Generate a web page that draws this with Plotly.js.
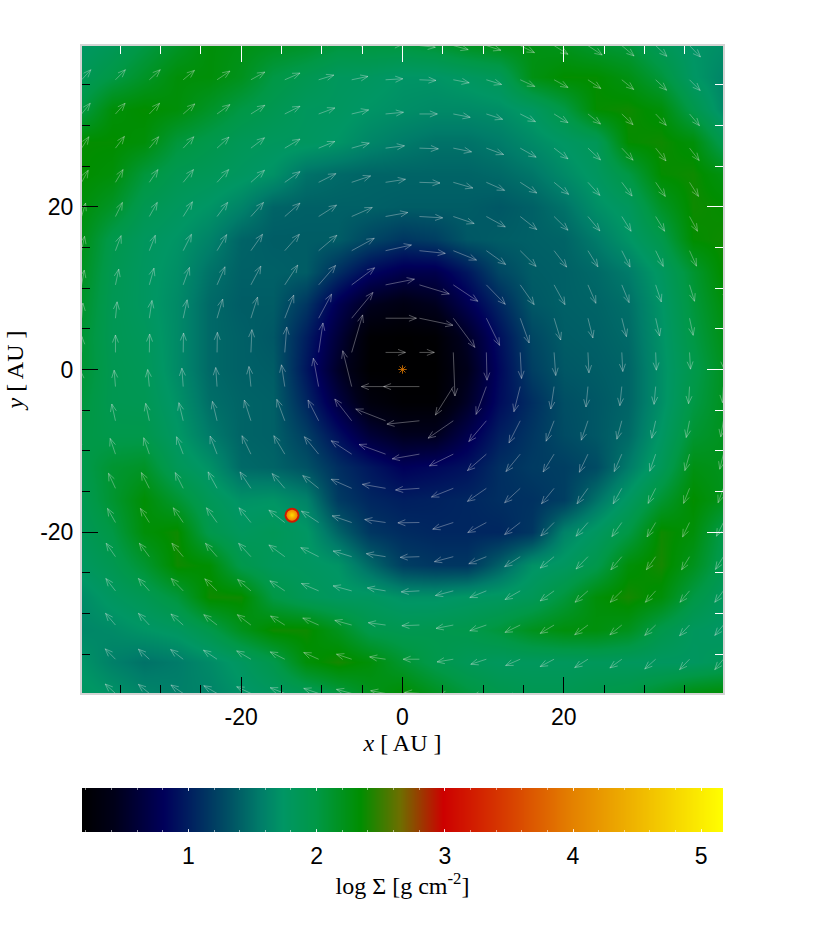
<!DOCTYPE html>
<html><head><meta charset="utf-8">
<script src="https://cdn.plot.ly/plotly-3.0.1.min.js"></script>
<style>html,body{margin:0;padding:0;background:#fff}#c{width:822px;height:926px}</style>
</head><body><div id="c"></div>
<script>
// surface density map: log Sigma sampled every 4 AU, rows from y=+40 down to y=-40
const mapX = [-40,-36,-32,-28,-24,-20,-16,-12,-8,-4,0,4,8,12,16,20,24,28,32,36,40];
const mapY = [40,36,32,28,24,20,16,12,8,4,0,-4,-8,-12,-16,-20,-24,-28,-32,-36,-40];
const logSigma = [
[1.75,1.85,2.0,2.15,2.3,2.25,2.2,2.15,2.05,2.05,2.05,2.1,2.2,2.25,2.25,2.2,2.1,2.05,1.85,1.72,1.68],
[1.85,2.0,2.15,2.3,2.3,2.2,2.0,1.9,1.8,1.78,1.72,1.72,1.78,1.85,2.25,2.35,2.35,2.25,2.05,1.75,1.6],
[2.0,2.3,2.35,2.3,2.15,2.0,1.9,1.8,1.78,1.72,1.68,1.65,1.65,1.68,1.78,2.0,2.35,2.38,2.3,1.95,1.62],
[2.35,2.35,2.3,2.05,1.95,1.85,1.8,1.78,1.72,1.62,1.55,1.5,1.5,1.55,1.65,1.75,1.85,2.35,2.38,2.3,1.9],
[2.35,2.3,2.05,1.9,1.85,1.78,1.7,1.5,1.45,1.42,1.42,1.42,1.42,1.45,1.52,1.65,1.78,2.0,2.35,2.38,2.25],
[2.3,2.15,1.9,1.8,1.72,1.6,1.42,1.4,1.4,1.4,1.38,1.38,1.38,1.35,1.4,1.5,1.68,1.8,2.15,2.38,2.35],
[2.25,1.95,1.8,1.72,1.6,1.42,1.38,1.38,1.38,1.25,1.15,1.2,1.35,1.38,1.4,1.42,1.55,1.72,1.95,2.35,2.38],
[2.2,1.9,1.78,1.68,1.5,1.4,1.4,1.38,1.1,0.85,0.72,0.72,0.95,1.25,1.38,1.4,1.45,1.55,1.78,2.1,2.38],
[2.15,1.88,1.78,1.65,1.45,1.38,1.38,1.15,0.75,0.45,0.35,0.45,0.75,1.05,1.35,1.4,1.42,1.48,1.72,2.05,2.3],
[2.1,1.88,1.82,1.65,1.45,1.4,1.35,1.0,0.6,0.2,0.18,0.2,0.5,0.9,1.25,1.38,1.4,1.45,1.7,2.0,2.25],
[2.1,1.9,1.85,1.65,1.45,1.4,1.38,0.95,0.5,0.18,0.18,0.18,0.42,0.85,1.2,1.35,1.38,1.42,1.68,1.95,2.2],
[2.05,1.9,1.88,1.7,1.48,1.42,1.4,1.05,0.65,0.3,0.2,0.2,0.5,0.88,1.1,1.3,1.35,1.42,1.68,2.0,2.2],
[2.0,1.95,1.95,1.75,1.55,1.42,1.4,1.2,0.9,0.6,0.45,0.45,0.72,1.0,1.15,1.28,1.35,1.45,1.75,2.1,2.2],
[1.95,2.1,2.15,1.85,1.7,1.45,1.42,1.32,1.1,0.95,0.8,0.85,0.92,1.1,1.18,1.2,1.28,1.55,1.85,2.25,2.2],
[1.9,2.1,2.32,2.1,1.85,1.7,1.72,1.6,1.18,1.05,1.0,1.02,1.05,1.1,1.12,1.2,1.5,1.78,2.1,2.35,2.2],
[1.85,2.0,2.3,2.38,1.95,1.8,1.85,1.75,1.42,1.15,1.08,1.05,1.05,1.05,1.15,1.6,1.78,2.0,2.38,2.3,1.95],
[1.78,1.9,2.1,2.38,2.33,1.95,1.82,1.78,1.72,1.45,1.2,1.15,1.15,1.4,1.7,1.78,1.95,2.3,2.4,2.2,1.9],
[1.65,1.78,1.88,2.05,2.38,2.38,2.0,1.85,1.78,1.78,1.7,1.7,1.75,1.78,1.85,2.05,2.3,2.4,2.3,2.0,1.8],
[1.62,1.65,1.72,1.78,1.95,2.2,2.38,2.38,2.2,1.95,1.9,1.92,1.95,2.05,2.2,2.28,2.28,2.2,1.95,1.8,1.75],
[1.72,1.58,1.5,1.55,1.65,1.78,1.95,2.3,2.4,2.3,2.1,1.95,1.85,1.8,1.8,1.8,1.82,1.8,1.78,1.78,1.85],
[1.78,1.72,1.62,1.58,1.6,1.7,1.78,1.85,2.0,2.2,2.35,2.2,2.05,1.95,1.9,1.9,1.95,2.0,2.15,2.3,2.35]
];
// velocity arrows: tails on this grid (AU), rows top to bottom
const arrowGrid = [-39.8,-35.6,-31.4,-27.2,-23.0,-18.8,-14.6,-10.4,-6.3,-2.1,2.1,6.3,10.4,14.6,18.8,23.0,27.2,31.4,35.6,39.8];
const velU = [
[26,28,30,32,36,40,44,45,48,50,48,45,44,43,42,43,37,34,33,30],
[28,30,33,34,39,42,46,46,49,52,50,48,46,44,42,39,36,33,32,30],
[26,29,31,35,39,42,46,49,51,54,54,51,49,46,42,38,34,32,30,28],
[22,27,28,32,36,41,46,49,53,57,57,55,52,48,42,38,34,31,29,27],
[20,23,26,31,35,41,46,52,57,60,62,59,55,50,44,36,31,29,27,26],
[12,21,24,28,32,38,46,54,62,67,70,63,57,50,42,36,28,27,24,22],
[9,17,18,25,29,35,44,55,68,78,78,70,58,48,38,30,25,23,21,20],
[8,10,14,19,24,30,39,51,69,87,90,74,57,42,33,24,22,17,15,13],
[4,5,8,12,17,20,27,39,64,93,101,65,40,27,20,15,14,12,11,10],
[1,0,1,1,1,3,6,13,33,60,45,5,2,4,5,3,3,2,3,2],
[-3,-4,-5,-4,-4,-6,-10,-16,-27,-73,-108,-54,-31,-19,-10,-6,-6,-5,-3,-3],
[-9,-11,-11,-13,-14,-20,-24,-32,-51,-90,-98,-76,-53,-34,-24,-20,-15,-12,-10,-8],
[-14,-16,-17,-20,-21,-27,-33,-43,-62,-80,-82,-72,-57,-43,-33,-26,-23,-18,-14,-11],
[-20,-21,-24,-24,-27,-33,-38,-48,-62,-70,-72,-66,-57,-47,-38,-33,-26,-23,-18,-16],
[-23,-24,-27,-30,-32,-36,-48,-52,-59,-63,-65,-62,-56,-47,-40,-36,-30,-26,-21,-21],
[-26,-28,-30,-34,-35,-37,-48,-54,-56,-58,-58,-57,-53,-47,-42,-36,-33,-28,-24,-24],
[-30,-29,-33,-36,-37,-40,-45,-52,-56,-55,-55,-54,-50,-46,-42,-39,-35,-31,-29,-26],
[-30,-30,-33,-37,-40,-41,-43,-48,-51,-52,-53,-52,-50,-46,-42,-40,-36,-33,-30,-26],
[-30,-31,-33,-38,-41,-43,-44,-45,-46,-48,-49,-49,-47,-44,-42,-40,-36,-33,-30,-26],
[-30,-31,-33,-37,-40,-43,-44,-45,-46,-45,-45,-45,-44,-42,-40,-38,-35,-32,-29,-26]
];
const velV = [
[30,30,30,29,27,24,21,15,10,3,-5,-12,-14,-21,-26,-28,-31,-32,-34,-36],
[30,30,30,28,26,23,20,14,10,3,-2,-9,-14,-20,-23,-26,-29,-31,-32,-34],
[32,32,32,30,28,26,23,18,12,5,0,-10,-16,-23,-26,-30,-32,-34,-35,-36],
[34,35,34,34,33,31,27,20,15,7,-2,-11,-19,-27,-32,-35,-36,-38,-37,-38],
[36,38,38,38,38,36,32,26,19,9,-2,-17,-24,-32,-36,-39,-41,-42,-42,-43],
[40,42,42,44,42,42,40,34,27,12,-4,-21,-31,-39,-41,-43,-44,-44,-44,-44],
[43,45,46,49,48,49,49,46,37,17,-8,-28,-41,-47,-49,-48,-49,-47,-46,-46],
[44,47,50,52,54,56,59,58,51,17,-27,-49,-58,-59,-59,-55,-53,-51,-49,-48],
[45,49,53,55,57,63,69,72,77,0,-21,-87,-81,-74,-65,-59,-55,-53,-51,-50],
[47,52,55,58,60,68,76,88,112,0,0,-130,-83,-78,-69,-61,-57,-53,-50,-50],
[47,49,51,55,57,60,65,85,107,0,0,-85,-83,-75,-67,-61,-57,-53,-51,-48],
[48,50,52,54,58,62,64,62,65,35,-10,-52,-62,-66,-61,-58,-55,-52,-50,-48],
[47,47,49,52,54,55,55,52,40,29,-14,-35,-49,-52,-53,-54,-52,-51,-49,-45],
[45,45,47,47,49,49,44,38,27,12,-5,-26,-39,-43,-46,-46,-46,-45,-45,-43],
[45,42,42,44,44,44,37,34,20,9,-1,-20,-30,-36,-40,-41,-42,-43,-43,-41],
[42,40,40,40,40,40,35,27,17,9,-2,-15,-21,-30,-34,-37,-39,-39,-39,-38],
[38,37,37,37,36,34,30,22,15,9,-3,-14,-20,-26,-30,-34,-34,-34,-34,-34],
[35,35,35,33,31,31,27,21,14,7,-2,-10,-17,-22,-25,-29,-29,-31,-32,-31],
[32,31,30,29,27,25,22,20,15,7,0,-8,-15,-19,-22,-25,-26,-29,-31,-31],
[29,28,27,25,23,20,17,15,12,8,3,-5,-9,-14,-17,-20,-22,-24,-26,-28]
];
const arrowsPerAU = 24.3;
const planetX = [-13.7], planetY = [-17.9];
const starX = [0], starY = [0];
const cbarEnds = [0.17, 5.17];
const cbarTicks = [1,2,3,4,5];
const axisTicks = [-20,0,20];
const axisTickText = ['-20','0','20'];
const scale = [
[0,'rgb(0,0,0)'],[0.05,'rgb(0,0,25)'],[0.127,'rgb(0,0,90)'],[0.166,'rgb(0,30,95)'],[0.228,'rgb(0,80,100)'],
[0.278,'rgb(0,125,105)'],[0.313,'rgb(0,150,100)'],[0.365,'rgb(0,152,70)'],[0.434,'rgb(0,142,0)'],[0.496,'rgb(110,110,0)'],[0.563,'rgb(205,0,0)'],
[0.66,'rgb(215,60,0)'],[0.766,'rgb(228,130,0)'],[0.87,'rgb(240,185,0)'],[1,'rgb(255,255,0)']
];
// arrow polylines with open heads
const ax=[],ay=[];
const headLen=1.0, headCos=Math.cos(0.38), headSin=Math.sin(0.38);
velU.forEach((row,r)=>row.forEach((u,c)=>{
  const v=velV[r][c], tx=arrowGrid[c], ty=arrowGrid[19-r];
  const px=tx+u/arrowsPerAU, py=ty+v/arrowsPerAU, m=Math.hypot(u,v)||1, dx=u/m, dy=v/m;
  ax.push(tx,px,null, px,px-headLen*(headCos*dx-headSin*dy),null, px,px-headLen*(headCos*dx+headSin*dy),null);
  ay.push(ty,py,null, py,py-headLen*(headCos*dy+headSin*dx),null, py,py-headLen*(headCos*dy-headSin*dx),null);
}));
const arrowCol='rgba(235,235,235,0.5)';
const data=[
 {type:'heatmap',x:mapX,y:mapY,z:logSigma,zmin:cbarEnds[0],zmax:cbarEnds[1],colorscale:scale,zsmooth:'best',showscale:false,hoverinfo:'skip'},
 {type:'scatter',mode:'lines',x:ax,y:ay,line:{color:arrowCol,width:0.7},hoverinfo:'skip',showlegend:false},
 {type:'scatter',mode:'markers',x:planetX,y:planetY,marker:{symbol:'circle',size:15,color:'rgb(205,25,0)',line:{width:0}},hoverinfo:'skip'},
 {type:'scatter',mode:'markers',x:planetX,y:planetY,marker:{symbol:'circle',size:11,color:'rgb(240,130,0)',gradient:{type:'radial',color:'rgb(255,220,0)'},line:{width:0}},hoverinfo:'skip'},
 {type:'scatter',mode:'markers',x:starX,y:starY,marker:{symbol:'asterisk-open',size:7,color:'rgb(225,120,0)',line:{color:'rgb(225,120,0)',width:0.8}},hoverinfo:'skip'},
 {type:'scatter',mode:'markers',x:[0],y:[0],xaxis:'x3',yaxis:'y3',marker:{opacity:0},hoverinfo:'skip'},
 {type:'heatmap',x:cbarEnds,y:[0,1],z:[cbarEnds,cbarEnds],xaxis:'x2',yaxis:'y2',zmin:cbarEnds[0],zmax:cbarEnds[1],colorscale:scale,zsmooth:'best',showscale:false,hoverinfo:'skip'}
];
const W=822,H=926,R=39.75;
const tickFont={family:'Liberation Sans, Arial, sans-serif',size:23,color:'#000'};
const serif={family:'Liberation Serif, Times New Roman, serif',size:24,color:'#000'};
const layout={
 width:W,height:H,margin:{l:0,r:0,t:0,b:0},paper_bgcolor:'#fff',plot_bgcolor:'#fff',showlegend:false,
 xaxis:{domain:[82/W,723/W],range:[-R,R],anchor:'y',tickmode:'array',tickvals:axisTicks,ticktext:axisTickText,ticks:'inside',ticklen:16,tickwidth:1,tickcolor:'#000',ticklabelstandoff:2,
   minor:{tickmode:'linear',tick0:0,dtick:5,ticks:'inside',ticklen:8,tickwidth:1,tickcolor:'#000',showgrid:false},
   showgrid:false,zeroline:false,showline:true,linecolor:'#d4d4d4',linewidth:2,tickfont:tickFont,
   title:{text:'<i>x</i> [ AU ]',font:serif,standoff:5}},
 yaxis:{domain:[1-693/H,1-46/H],range:[-R,R],anchor:'x',tickmode:'array',tickvals:axisTicks,ticktext:axisTickText,ticks:'inside',ticklen:16,tickwidth:1,tickcolor:'#000',ticklabelstandoff:2,
   minor:{tickmode:'linear',tick0:0,dtick:5,ticks:'inside',ticklen:8,tickwidth:1,tickcolor:'#000',showgrid:false},
   showgrid:false,zeroline:false,showline:true,linecolor:'#d4d4d4',linewidth:2,tickfont:tickFont,
   title:{text:'<i>y</i> [ AU ]',font:serif,standoff:10}},
 xaxis3:{domain:[82/W,723/W],range:[-R,R],anchor:'y3',overlaying:'x',side:'top',tickmode:'array',tickvals:axisTicks,ticks:'inside',ticklen:16,tickwidth:1,tickcolor:'#fff',
   minor:{tickmode:'linear',tick0:0,dtick:5,ticks:'inside',ticklen:8,tickwidth:1,tickcolor:'#fff',showgrid:false},
   showticklabels:false,showgrid:false,zeroline:false,showline:true,linecolor:'#d4d4d4',linewidth:2},
 yaxis3:{domain:[1-693/H,1-46/H],range:[-R,R],anchor:'x3',overlaying:'y',side:'right',tickmode:'array',tickvals:axisTicks,ticks:'inside',ticklen:16,tickwidth:1,tickcolor:'#fff',
   minor:{tickmode:'linear',tick0:0,dtick:5,ticks:'inside',ticklen:8,tickwidth:1,tickcolor:'#fff',showgrid:false},
   showticklabels:false,showgrid:false,zeroline:false,showline:true,linecolor:'#d4d4d4',linewidth:2},
 xaxis2:{domain:[82/W,723/W],range:cbarEnds,anchor:'y2',tickmode:'array',tickvals:cbarTicks,ticks:'inside',ticklen:3,tickwidth:1,tickcolor:'rgba(255,255,255,0.8)',ticklabelstandoff:8,
   minor:{tickmode:'linear',tick0:0,dtick:0.2,ticks:'inside',ticklen:2,tickwidth:1,tickcolor:'rgba(255,255,255,0.55)',showgrid:false},
   mirror:'allticks',showgrid:false,zeroline:false,showline:false,tickfont:tickFont,
   title:{text:'log Σ [g cm<sup>-2</sup>]',font:serif,standoff:2}},
 yaxis2:{domain:[1-832/H,1-788/H],range:[0,1],anchor:'x2',showticklabels:false,ticks:'',showgrid:false,zeroline:false,showline:false}
};
Plotly.newPlot('c',data,layout,{displayModeBar:false,staticPlot:true});
</script></body></html>
